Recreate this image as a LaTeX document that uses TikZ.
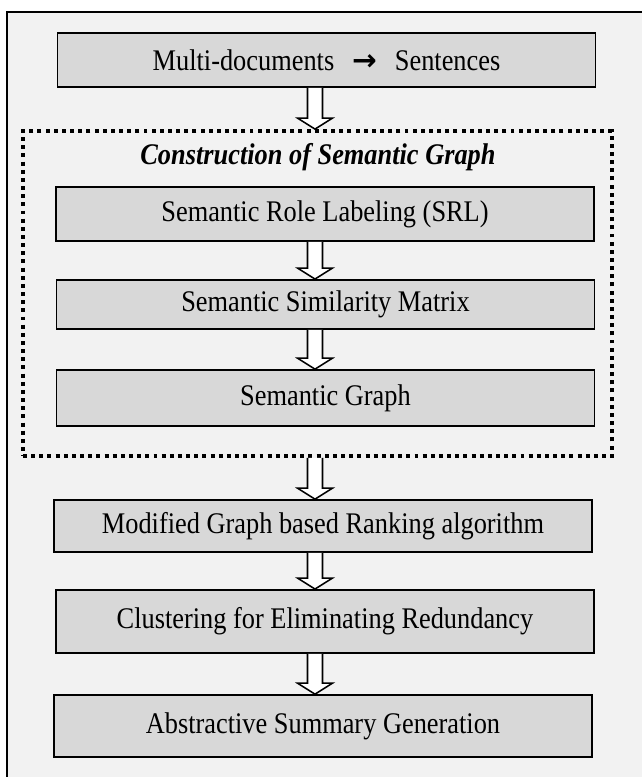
\documentclass[tikz,border=0pt]{standalone}
\usepackage{fontspec}
\setmainfont[FakeStretch=0.88]{Liberation Serif}
\newfontfamily\symfont{DejaVu Sans}
\usepackage{tikz}
\usetikzlibrary{calc}
\definecolor{panelbg}{HTML}{F2F2F2}
\definecolor{stagefill}{HTML}{D8D8D8}

\tikzset{
  stage/.style={draw=black, line width=1.2pt, fill=stagefill, minimum width=13.45cm, inner sep=0pt},
  hollow/.style={draw=black, line width=1.1pt, fill=white, line join=miter},
}
% open block arrow from the bottom of #1 to the top of #2
\newcommand\flowarrow[2]{%
  \path (#1.south -| spine) coordinate (s) (#2.north -| spine) coordinate (t);
  \draw[hollow] ($(s)+(-7.5,0)$) -- ($(t)+(-7.5,-11)$) -- ($(t)+(-17.5,-11)$) -- (t)
    -- ($(t)+(17.5,-11)$) -- ($(t)+(7.5,-11)$) -- ($(s)+(7.5,0)$);
}

\begin{document}
\begin{tikzpicture}[x=0.025cm, y=-0.025cm, font=\fontsize{21.3}{25}\selectfont]
\useasboundingbox (0,0) rectangle (641,777);
\fill[white] (0,0) rectangle (641,777);
\draw[line width=1.4pt, fill=panelbg] (7,12) rectangle (680,820);
\coordinate (spine) at (315,0);

% input
\node[stage, minimum height=1.35cm] (docs) at (326.5,60) {Multi-documents\hspace{0.6em}{\symfont\bfseries\fontsize{21}{24}\selectfont →}\hspace{0.6em}Sentences};

% semantic graph block
\node[draw=black, line width=2.8pt, dash pattern=on 2.8pt off 3pt, minimum width=14.72cm, minimum height=8.12cm, inner sep=0pt] (sgframe) at (317.5,293.5) {};
\node (sgtitle) at (318,157) {\textbf{\textit{Construction of Semantic Graph}}};
\node[stage, minimum height=1.35cm] (srl) at (325,214) {Semantic Role Labeling (SRL)};
\node[stage, minimum height=1.23cm] (simmat) at (325.5,304.5) {Semantic Similarity Matrix};
\node[stage, minimum height=1.4cm] (sgraph) at (325.5,398) {Semantic Graph};

% after the graph
\node[stage, minimum height=1.3cm] (rank) at (323,526) {Modified Graph based Ranking algorithm};
\node[stage, minimum height=1.58cm] (cluster) at (325,621.5) {Clustering for Eliminating Redundancy};
\node[stage, minimum height=1.55cm] (summary) at (323,726) {Abstractive Summary Generation};

\flowarrow{docs}{sgframe}
\flowarrow{srl}{simmat}
\flowarrow{simmat}{sgraph}
\flowarrow{sgframe}{rank}
\flowarrow{rank}{cluster}
\flowarrow{cluster}{summary}
\end{tikzpicture}
\end{document}
